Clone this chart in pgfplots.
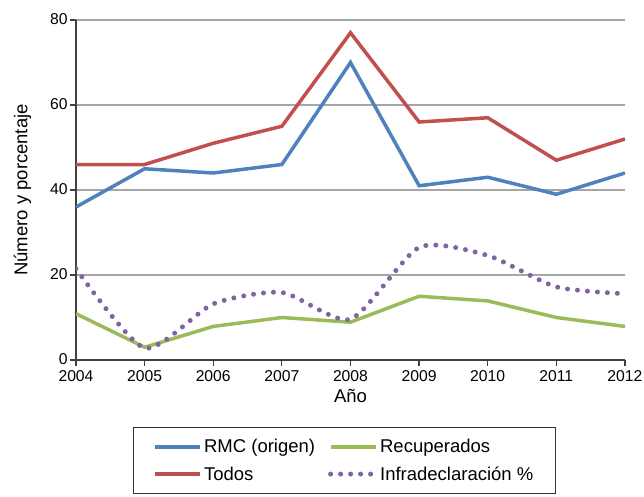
\documentclass[border=0pt]{standalone}
\usepackage{pgfplots}
\pgfplotsset{compat=1.18}
\usepackage{fontspec}
\setmainfont{Liberation Sans}
\definecolor{cblue}{HTML}{4F81BD}
\definecolor{cred}{HTML}{C0504D}
\definecolor{cgreen}{HTML}{9BBB59}
\definecolor{cpurple}{HTML}{8064A2}
\definecolor{cgrid}{HTML}{A6A6A6}
\begin{document}
\begin{tikzpicture}[x=1pt,y=1pt]
\useasboundingbox (0,0) rectangle (644,496);
\begin{axis}[
  at={(76pt,136pt)}, anchor=south west,
  scale only axis, width=549pt, height=340pt,
  xmin=2004, xmax=2012, ymin=0, ymax=80,
  xtick={2004,...,2012}, ytick={0,20,40,60,80},
  axis lines*=left,
  axis line style={line width=1.3pt, color=black!75},
  tick align=outside, major tick length=6pt,
  tick style={line width=1.2pt, color=black!75},
  ymajorgrids, grid style={line width=1.4pt, color=cgrid},
  /pgf/number format/1000 sep={},
  /pgf/number format/assume math mode=true,
  tick label style={font=\fontsize{15.7}{18}\selectfont},
  label style={font=\fontsize{18.5}{22}\selectfont},
  xticklabel style={yshift=-1pt},
  yticklabel style={xshift=1pt, yshift=1pt},
  xlabel={Año}, ylabel={Número y porcentaje},
  xlabel style={yshift=-1pt},
  ylabel style={yshift=12pt},
  legend columns=2,
  legend cell align=left,
  legend image code/.code={\draw[#1] (0pt,0pt) -- (45pt,0pt);},
  legend style={at={(0.1038,-0.197)}, anchor=north west,
    draw=black!80, line width=1.2pt,
    font=\fontsize{18.5}{22}\selectfont,
    inner xsep=20pt, inner ysep=10pt,
    row sep=8pt,
    nodes={inner xsep=2pt},
    /tikz/every even column/.append style={column sep=11pt}},
]
\addplot[cblue, line width=3.5pt] coordinates {
 (2004,36) (2005,45) (2006,44) (2007,46) (2008,70) (2009,41) (2010,43) (2011,39) (2012,44)};
\addlegendentry{RMC (origen)}
\addplot[cgreen, line width=3.5pt] coordinates {
 (2004,10.9) (2005,3) (2006,7.9) (2007,10) (2008,8.9) (2009,15) (2010,13.9) (2011,10) (2012,7.9)};
\addlegendentry{Recuperados}
\addplot[cred, line width=3.5pt] coordinates {
 (2004,46) (2005,46) (2006,51) (2007,55) (2008,77) (2009,56) (2010,57) (2011,47) (2012,52)};
\addlegendentry{Todos}
\addplot[cpurple, line width=5pt, line cap=round, dash pattern=on 0pt off 10pt, smooth, tension=0.4] coordinates {
 (2004,21.5) (2005,2.8) (2006,13.2) (2007,15.9) (2008,9.6) (2009,26.5) (2010,24.6) (2011,17.2) (2012,15.6)};
\addlegendentry{Infradeclaración \%}
\end{axis}
\end{tikzpicture}
\end{document}
